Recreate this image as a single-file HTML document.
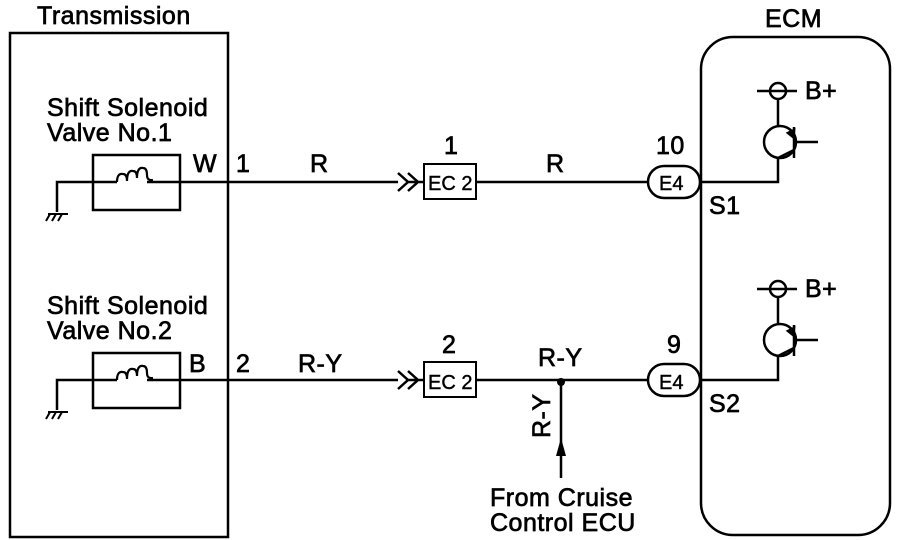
<!DOCTYPE html>
<html><head><style>body{margin:0;background:#fff}svg{display:block}</style></head>
<body>
<svg width="912" height="540" viewBox="0 0 912 540" xmlns="http://www.w3.org/2000/svg">
<g fill="none" stroke="#000" stroke-width="2.5">
<rect x="10" y="33" width="218" height="504"/>
<rect x="701" y="37" width="189" height="498" rx="32"/>
</g>
<g font-family="Liberation Sans, Arial, sans-serif" font-size="25" fill="#000" stroke="#000" stroke-width="0.7" letter-spacing="0.5">
<text x="37" y="24">Transmission</text>
<text x="765" y="27">ECM</text>
<text x="47" y="116">Shift Solenoid</text>
<text x="47" y="141">Valve No.1</text>
<text x="47" y="314">Shift Solenoid</text>
<text x="47" y="339">Valve No.2</text>
<text x="236" y="172">1</text><text x="193" y="172">W</text>
<text x="310" y="172">R</text><text x="444" y="154">1</text>
<text x="546" y="172">R</text><text x="656" y="154">10</text>
<text x="709" y="214">S1</text><text x="805" y="99">B+</text>
<text x="236" y="372">2</text><text x="189" y="372">B</text>
<text x="298" y="372">R-Y</text><text x="442" y="353">2</text>
<text x="538" y="366">R-Y</text><text x="667" y="353">9</text>
<text x="709" y="412">S2</text><text x="805" y="297">B+</text>
<text transform="translate(550,438) rotate(-90)">R-Y</text>
<text x="490" y="506">From Cruise</text>
<text x="490" y="531">Control ECU</text>
</g>
<g font-family="Liberation Sans, Arial, sans-serif" font-size="20" fill="#000" stroke="#000" stroke-width="0.4">
<text x="428" y="190">EC 2</text>
<text x="428" y="389">EC 2</text>
<text x="659" y="190">E4</text>
<text x="659" y="389">E4</text>
</g>
<g id="r1" fill="none" stroke="#000" stroke-width="2.5">
<rect x="93" y="155" width="87" height="55"/>
<path d="M57 212 V182 H117 M147 182 H398"/>
<path d="M117 182 q0 -9 6 -8 q4 0 4 7 q0 -11 6 -10 q4 0 4 7 q0 -11 6 -10 q4 0 4 7 q0 6 6 5" stroke-width="2.2"/>
<path d="M48 214 H68 M50 214 l-4 7 M56 214 l-4 7 M62 214 l-4 7" stroke-width="2"/>
<path d="M398 173 l10 9 l-10 9 M408 173 l10 9 l-10 9 M408 182 H424"/>
<rect x="424" y="164" width="52" height="35" stroke-width="2"/>
<path d="M476 182 H648"/>
<rect x="648" y="166" width="52" height="32" rx="16"/>
<path d="M700 182 H778 V158"/>
<circle cx="780" cy="142" r="16"/>
<path d="M794 127 V158 M794 142 H818 M778 126 V99 M757 91 H797 M778 158 L794 150"/>
<circle cx="778" cy="91" r="8"/>
<path d="M788 133 L794 130 L793 137 Z" fill="#000"/>
</g>
<use href="#r1" transform="translate(0,198)"/>
<circle cx="561" cy="382" r="4"/>
<path d="M561 382 V478" stroke="#000" stroke-width="2.5"/>
<path d="M561 438 L556 456 H566 Z"/>
</svg>
</body></html>
